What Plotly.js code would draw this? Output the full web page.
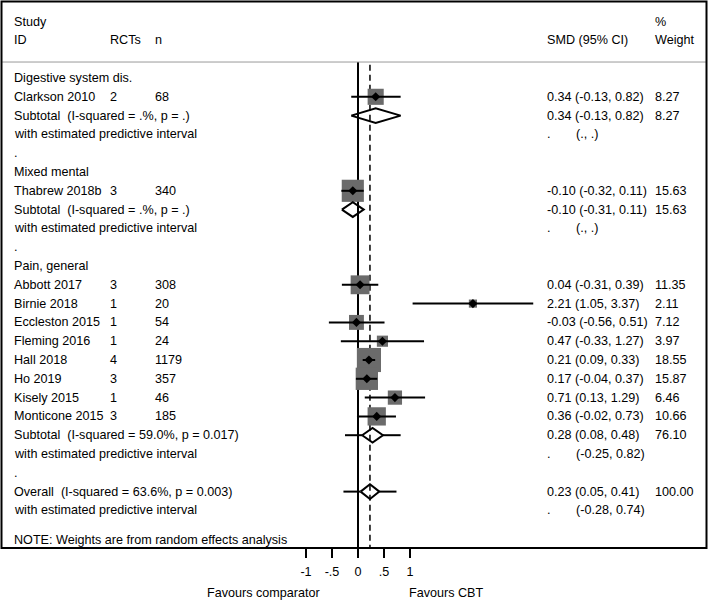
<!DOCTYPE html>
<html>
<head>
<meta charset="utf-8">
<script src="https://cdn.plot.ly/plotly-3.0.1.min.js"></script>
<style>
  body { margin: 0; background: #fff; }
  #chart { width: 708px; height: 600px; }
</style>
</head>
<body>
<div id="chart"></div>
<script>
const groupNames = ['Digestive system dis.', 'Mixed mental', 'Pain, general'];

const studies = ['Clarkson 2010', 'Thabrew 2018b', 'Abbott 2017', 'Birnie 2018', 'Eccleston 2015',
  'Fleming 2016', 'Hall 2018', 'Ho 2019', 'Kisely 2015', 'Monticone 2015'];
const studyGroup = [0, 1, 2, 2, 2, 2, 2, 2, 2, 2];
const rcts = [2, 3, 3, 1, 1, 1, 4, 3, 1, 3];
const ns = [68, 340, 308, 20, 54, 24, 1179, 357, 46, 185];
const smd = [0.34, -0.10, 0.04, 2.21, -0.03, 0.47, 0.21, 0.17, 0.71, 0.36];
const ciLow = [-0.13, -0.32, -0.31, 1.05, -0.56, -0.33, 0.09, -0.04, 0.13, -0.02];
const ciHigh = [0.82, 0.11, 0.39, 3.37, 0.51, 1.27, 0.33, 0.37, 1.29, 0.73];
const weights = [8.27, 15.63, 11.35, 2.11, 7.12, 3.97, 18.55, 15.87, 6.46, 10.66];

const subEst = [0.34, -0.10, 0.28];
const subLow = [-0.13, -0.31, 0.08];
const subHigh = [0.82, 0.11, 0.48];
const subWeight = [8.27, 15.63, 76.10];
const subI2 = ['.%', '.%', '59.0%'];
const subP = ['.', '.', '0.017'];
const subPredLow = [null, null, -0.25];
const subPredHigh = [null, null, 0.82];

const overallEst = 0.23, overallLow = 0.05, overallHigh = 0.41, overallWeight = 100.00;
const overallI2 = '63.6%', overallP = '0.003';
const overallPredLow = -0.28, overallPredHigh = 0.74;

const tickVals = [-1, -0.5, 0, 0.5, 1];
const tickText = ['-1', '-.5', '0', '.5', '1'];

// layout geometry (pixels)
const W = 708, H = 600, PLOT_H = 548;
const X_ZERO = 358, X_UNIT = 52;
const ROW_TOP = 78, ROW_H = 18.8;
const COL = { study: 12, rcts: 108, n: 153, smd: 545, pred: 574, weight: 653 };
const FONT = { family: 'Liberation Sans, Arial, sans-serif', size: 12.6, color: '#000' };

const fmt = v => v.toFixed(2);
const rowRange = [(PLOT_H - ROW_TOP) / ROW_H, -ROW_TOP / ROW_H];

const annotations = [];
const addText = (text, col, row) => annotations.push({
  text, x: col / W, xref: 'paper', y: row, yref: 'y',
  xanchor: 'left', yanchor: 'middle', showarrow: false, font: FONT
});

const studyRow = [];
const subRow = [];
let row = 0;
groupNames.forEach((g, gi) => {
  addText(g, COL.study, row++);
  studies.forEach((s, i) => {
    if (studyGroup[i] !== gi) return;
    studyRow[i] = row;
    addText(s, COL.study, row);
    addText(String(rcts[i]), COL.rcts, row);
    addText(String(ns[i]), COL.n, row);
    addText(`${fmt(smd[i])} (${fmt(ciLow[i])}, ${fmt(ciHigh[i])})`, COL.smd, row);
    addText(fmt(weights[i]), COL.weight, row);
    row++;
  });
  subRow[gi] = row;
  addText(`Subtotal\u00a0 (I-squared = ${subI2[gi]}, p = ${subP[gi]})`, COL.study, row);
  addText(`${fmt(subEst[gi])} (${fmt(subLow[gi])}, ${fmt(subHigh[gi])})`, COL.smd, row);
  addText(fmt(subWeight[gi]), COL.weight, row);
  row++;
  addText('with estimated predictive interval', COL.study, row);
  addText('.', COL.smd, row);
  addText(subPredLow[gi] === null ? '(., .)' : `(${fmt(subPredLow[gi])}, ${fmt(subPredHigh[gi])})`, COL.pred, row);
  row++;
  addText('.', COL.study, row++);
});
const overallRow = row;
addText(`Overall\u00a0 (I-squared = ${overallI2}, p = ${overallP})`, COL.study, row);
addText(`${fmt(overallEst)} (${fmt(overallLow)}, ${fmt(overallHigh)})`, COL.smd, row);
addText(fmt(overallWeight), COL.weight, row);
row++;
addText('with estimated predictive interval', COL.study, row);
addText('.', COL.smd, row);
addText(`(${fmt(overallPredLow)}, ${fmt(overallPredHigh)})`, COL.pred, row);
addText('NOTE: Weights are from random effects analysis', COL.study, row + 1.58);

// header
addText('Study', COL.study, -3);
addText('ID', COL.study, -2);
addText('RCTs', COL.rcts, -2);
addText('n', COL.n, -2);
addText('%', COL.weight, -3);
addText('SMD (95% CI)', COL.smd, -2);
addText('Weight', COL.weight, -2);

// axis captions
annotations.push({ text: 'Favours comparator', x: 322 / W, xref: 'paper', y: -45 / PLOT_H, yref: 'paper',
  xanchor: 'right', yanchor: 'middle', showarrow: false, font: FONT });
annotations.push({ text: 'Favours CBT', x: 407 / W, xref: 'paper', y: -45 / PLOT_H, yref: 'paper',
  xanchor: 'left', yanchor: 'middle', showarrow: false, font: FONT });

// CI whiskers
const ciX = [], ciY = [];
studies.forEach((s, i) => {
  ciX.push(ciLow[i], ciHigh[i], null);
  ciY.push(studyRow[i], studyRow[i], null);
});

// pooled diamonds + predictive intervals
const pooled = groupNames.map((g, gi) => ({
  row: subRow[gi], est: subEst[gi], lo: subLow[gi], hi: subHigh[gi],
  pLo: subPredLow[gi], pHi: subPredHigh[gi]
}));
pooled.push({ row: overallRow, est: overallEst, lo: overallLow, hi: overallHigh,
  pLo: overallPredLow, pHi: overallPredHigh });

const dh = 0.39;
const diaX = [], diaY = [], predX = [], predY = [];
pooled.forEach(p => {
  diaX.push(p.lo, p.est, p.hi, p.est, p.lo, null);
  diaY.push(p.row, p.row - dh, p.row, p.row + dh, p.row, null);
  if (p.pLo !== null) {
    predX.push(p.pLo, p.lo, null, p.hi, p.pHi, null);
    predY.push(p.row, p.row, null, p.row, p.row, null);
  }
});

const traces = [
  {
    type: 'scatter', mode: 'markers', x: smd, y: studyRow, hoverinfo: 'skip',
    marker: { symbol: 'square', color: '#6b6b6b', opacity: 1,
      size: weights.map(w => 5.6 * Math.sqrt(w)), line: { width: 0 } }
  },
  {
    type: 'scatter', mode: 'lines', x: ciX, y: ciY, hoverinfo: 'skip',
    line: { color: '#000', width: 2 }
  },
  {
    type: 'scatter', mode: 'markers', x: smd, y: studyRow, hoverinfo: 'skip',
    marker: { symbol: 'diamond', color: '#000', size: 7, opacity: 1, line: { width: 0 } }
  },
  {
    type: 'scatter', mode: 'lines', x: predX, y: predY, hoverinfo: 'skip',
    line: { color: '#000', width: 2 }
  },
  {
    type: 'scatter', mode: 'lines', x: diaX, y: diaY, hoverinfo: 'skip',
    line: { color: '#000', width: 2 }
  }
];

const sepRow = -0.85;
const shapes = [
  { type: 'line', xref: 'x', yref: 'y', x0: 0, x1: 0, y0: sepRow, y1: rowRange[0],
    line: { color: '#000', width: 2 }, layer: 'below' },
  { type: 'line', xref: 'x', yref: 'y', x0: overallEst, x1: overallEst, y0: sepRow + 0.15, y1: rowRange[0],
    line: { color: '#000', width: 1.5, dash: '6px,4px' }, layer: 'below' },
  { type: 'line', xref: 'paper', yref: 'y', x0: 0.003, x1: 0.997, y0: sepRow, y1: sepRow,
    line: { color: '#999', width: 1 } },
  { type: 'rect', xref: 'paper', yref: 'paper', x0: 1.5 / W, x1: 706.5 / W, y0: 0, y1: 1 - 1.5 / PLOT_H,
    line: { color: '#000', width: 2 } }
];

const layout = {
  width: W, height: H,
  margin: { l: 0, r: 0, t: 0, b: H - PLOT_H, pad: 0 },
  paper_bgcolor: '#fff', plot_bgcolor: '#fff',
  showlegend: false,
  font: FONT,
  xaxis: {
    range: [-X_ZERO / X_UNIT, (W - X_ZERO) / X_UNIT],
    tickvals: tickVals, ticktext: tickText,
    ticks: 'outside', ticklen: 9, tickwidth: 2, tickcolor: '#000', ticklabelstandoff: 3,
    tickfont: FONT, showgrid: false, zeroline: false, showline: false, fixedrange: true
  },
  yaxis: { range: rowRange, visible: false, fixedrange: true },
  shapes, annotations
};

Plotly.newPlot('chart', traces, layout, { staticPlot: true });
</script>
</body>
</html>
